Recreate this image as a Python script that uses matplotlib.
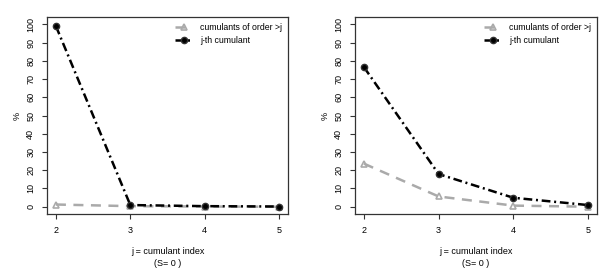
import matplotlib
matplotlib.use("Agg")
import matplotlib.pyplot as plt

plt.rcParams['font.family'] = ['Liberation Sans', 'DejaVu Sans']

j_index = [2, 3, 4, 5]
left_jth = [99.0, 0.9, 0.3, 0.1]
left_higher = [1.2, 0.3, 0.1, 0.0]
right_jth = [76.5, 17.9, 4.9, 0.9]
right_higher = [23.6, 5.6, 0.6, 0.0]
y_ticks = list(range(0, 101, 10))
x_label = "j = cumulant index"
sub_label = "(S= 0 )"
legend_labels = ["cumulants of order >j", "j-th cumulant"]

W, H = 601, 274
fig = plt.figure(figsize=(W / 100, H / 100), dpi=100)
FS = 6.5

def add_panel(x0, x1, y0, y1, jth, higher):
    ax = fig.add_axes([x0 / W, 1 - y1 / H, (x1 - x0) / W, (y1 - y0) / H])
    ax.plot(j_index, higher, color='#aaaaaa', lw=1.8, ls=(0, (4, 3)),
            marker='^', ms=5, mfc='none', mec='#aaaaaa', mew=1.2,
            label=legend_labels[0])
    ax.plot(j_index, jth, color='black', lw=1.8, ls=(0, (3.5, 1.5, 0.8, 1.5)),
            marker='o', ms=4.5, mfc='black', mec='#333333', mew=1,
            label=legend_labels[1])
    ax.set_xlim(1.88, 5.12)
    ax.set_ylim(-4, 104)
    ax.set_xticks(j_index)
    ax.set_yticks(y_ticks)
    ax.set_yticklabels([str(v) for v in y_ticks], rotation=90, va='center')
    ax.tick_params(axis='both', labelsize=FS, length=3.5, width=0.8, pad=5, color='#333333')
    for s in ax.spines.values():
        s.set_linewidth(0.9)
        s.set_color('#333333')
    cx = (x0 + x1) / 2
    fig.text((x0 - 30) / W, 1 - ((y0 + y1) / 2) / H, '%', fontsize=FS,
             ha='center', va='center', rotation=90)
    fig.text(cx / W, 1 - 252 / H, x_label, fontsize=FS, ha='center', va='center')
    fig.text(cx / W, 1 - 263 / H, sub_label, fontsize=FS, ha='center', va='center')
    ax.legend(loc='upper right', frameon=False, fontsize=6.3,
              handlelength=2.0, handletextpad=0.9, borderaxespad=0.25,
              labelspacing=0.45)
    return ax

add_panel(47, 288, 17, 214, left_jth, left_higher)
add_panel(355, 597, 17, 214, right_jth, right_higher)

fig.savefig("out.png", dpi=100)
